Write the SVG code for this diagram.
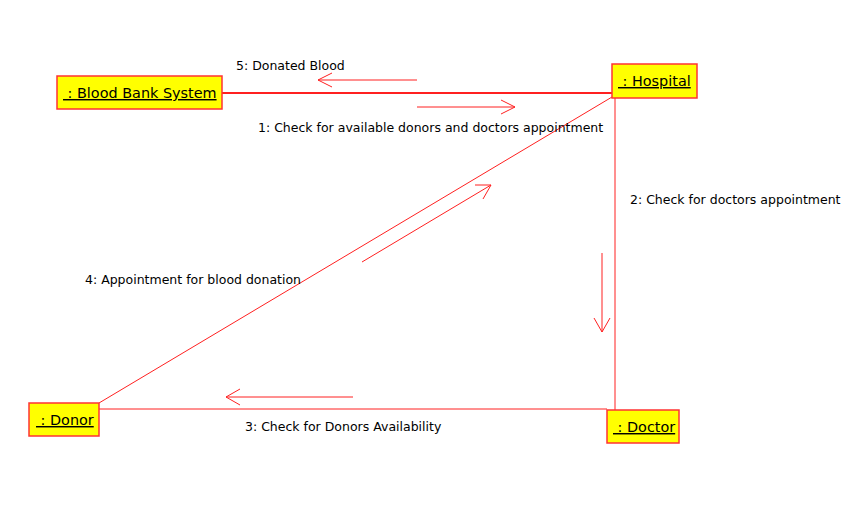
<svg xmlns="http://www.w3.org/2000/svg" width="860" height="507" viewBox="0 0 860 507">
<style>
.box{fill:#ffff00;stroke:#ff3333;stroke-width:1.5}
.nl{font-family:"DejaVu Sans",Verdana,sans-serif;font-size:14.4px;fill:#000;text-decoration:underline}
.lk{stroke:#ff2020;stroke-width:1;fill:none}
.ar{stroke:#ff2020;stroke-width:1;fill:none}
.lb{font-family:"DejaVu Sans",Verdana,sans-serif;font-size:12.5px;fill:#000}
</style>
<rect width="860" height="507" fill="#fff"/>
<g id="connectors">
<line class="lk" x1="222" y1="93" x2="612" y2="93" style="stroke-width:2"/>
<line class="lk" x1="615" y1="98" x2="615" y2="410"/>
<line class="lk" x1="612" y1="97" x2="99" y2="403"/>
<line class="lk" x1="99" y1="409" x2="607" y2="409"/>
<path class="ar" d="M417,80 L318,80 M332,73 L318,80 L332,87"/>
<path class="ar" d="M417,107 L515,107 M501,100 L515,107 L501,114"/>
<path class="ar" d="M602,253 L602,332 M594,318 L602,332 L610,318"/>
<path class="ar" d="M353,397 L226,397 M240,389 L226,397 L240,405"/>
<path class="ar" d="M362,262 L491,185 M475,185 L491,185 L483,199"/>
<text class="lb" x="236" y="70">5: Donated Blood</text>
<text class="lb" x="258" y="132">1: Check for available donors and doctors appointment</text>
<text class="lb" x="630" y="204">2: Check for doctors appointment</text>
<text class="lb" x="85" y="284">4: Appointment for blood donation</text>
<text class="lb" x="245" y="431">3: Check for Donors Availability</text>
</g>
<g id="blood-bank-system">
<rect class="box" x="57" y="76" width="165" height="33"/>
<text class="nl" x="63" y="98">&#160;: Blood Bank System</text>
</g>
<g id="hospital">
<rect class="box" x="612" y="64" width="85" height="34"/>
<text class="nl" x="618" y="86">&#160;: Hospital</text>
</g>
<g id="donor">
<rect class="box" x="29" y="403" width="70" height="33"/>
<text class="nl" x="36" y="425">&#160;: Donor</text>
</g>
<g id="doctor">
<rect class="box" x="607" y="410" width="72" height="33"/>
<text class="nl" x="613" y="432">&#160;: Doctor</text>
</g>
</svg>
